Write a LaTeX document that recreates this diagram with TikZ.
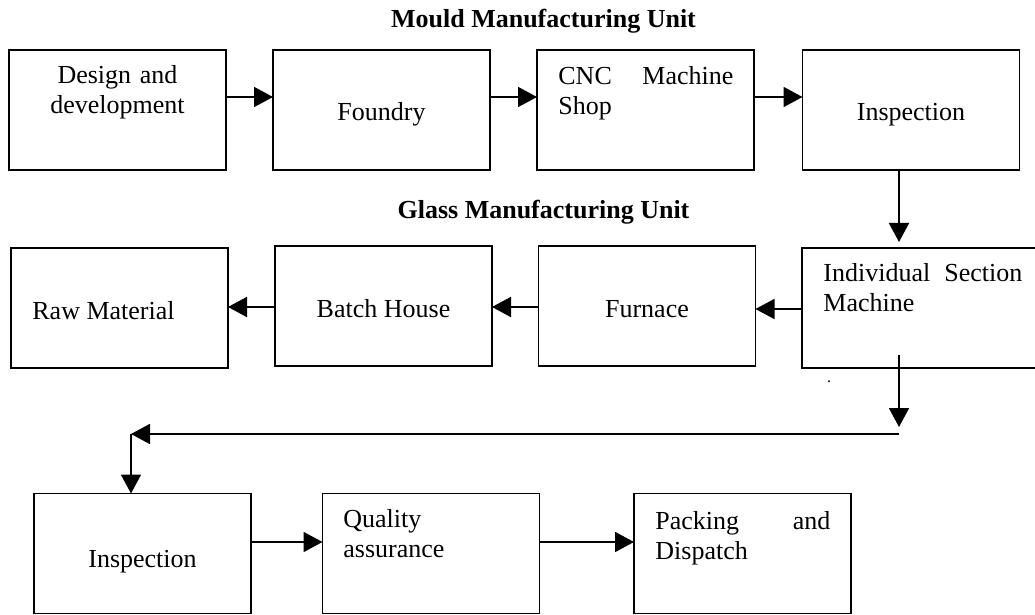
\documentclass[tikz,border=0pt]{standalone}
\usepackage{fontspec}
\setmainfont{Liberation Serif}
\usepackage{tikz}
\usetikzlibrary{positioning, arrows.meta}
\tikzset{
  unit/.style ={draw, line width=0.9pt, rectangle, inner sep=0pt, outer sep=0pt,
                minimum width=108.5pt, minimum height=60pt},
  lbl/.style  ={inner sep=0pt, anchor=base, font=\fontsize{13}{15}\selectfont},
  ttl/.style  ={inner sep=0pt, anchor=base, font=\fontsize{13}{15}\selectfont\bfseries},
  arr/.style  ={-{Triangle[length=9.5pt,width=10pt]}, line width=0.9pt},
}

\begin{document}
\begin{tikzpicture}[x=0.5pt, y=-0.5pt]
\useasboundingbox (0,0) rectangle (1035,615);

% ---- mould manufacturing unit ----
\node[ttl] (mould) at (543.5,28) {Mould Manufacturing Unit};
\node[unit] (design)  at (117.5,110) {};
\node[unit] (foundry) at (381.5,110) {};
\node[unit] (cnc)     at (645.5,110) {};
\node[unit] (inspA)   at (911,110)   {};

\node[lbl,text width=90pt,align=center] (designT) at (117.5,84) {Design and\\development};
\node[lbl] (foundryT) at (381.5,121) {Foundry};
\node[lbl,anchor=base west,text width=87.5pt,align=left] (cncT) at (558,85) {CNC\hfill Machine\\Shop};
\node[lbl] (inspAT) at (911,121) {Inspection};

\draw[arr] ([yshift=6.5pt]design.east)  -- ([yshift=6.5pt]foundry.west);
\draw[arr] ([yshift=6.5pt]foundry.east) -- ([yshift=6.5pt]cnc.west);
\draw[arr] ([yshift=6.5pt]cnc.east)     -- ([yshift=6.5pt]inspA.west);

% ---- glass manufacturing unit ----
\node[ttl] (glass) at (543.5,219) {Glass Manufacturing Unit};
\node[unit] (raw)     at (119.5,308) {};
\node[unit] (batch)   at (383.5,306) {};
\node[unit] (furnace) at (647,306)   {};
\node[unit,minimum width=119pt] (ism) at (921,308) {};

\node[lbl,anchor=base west] (rawT) at (32,320) {Raw Material};
\node[lbl] (batchT) at (383.5,318) {Batch House};
\node[lbl] (furnaceT) at (647,317) {Furnace};
\node[lbl,anchor=base west,text width=99.5pt,align=left] (ismT) at (823,282) {Individual\hfill Section\\Machine};
\node[lbl,font=\fontsize{8}{9}\selectfont] (ismDot) at (829,382) {.};

\draw[arr,shorten >=3pt] ([xshift=-6pt]inspA.south) -- ([xshift=-6pt]inspA.south |- ism.north);
\draw[arr] ([yshift=-0.5pt]ism.west) -- ([yshift=-0.5pt]ism.west -| furnace.east);
\draw[arr] ([yshift=-0.5pt]furnace.west) -- ([yshift=-0.5pt]batch.east);
\draw[arr] ([yshift=-0.5pt]batch.west) -- ([yshift=-0.5pt]batch.west -| raw.east);

% ---- finishing line ----
\node[unit] (inspB) at (142.5,553.5) {};
\node[unit] (qa)    at (431,553.5)   {};
\node[unit] (pack)  at (742.5,553.5) {};

\node[lbl] (inspBT) at (142.5,567) {Inspection};
\node[lbl,anchor=base west,text width=87.5pt,align=left] (qaT) at (343,527) {Quality\\assurance};
\node[lbl,anchor=base west,text width=87.5pt,align=left] (packT) at (655,529) {Packing\hfill and\\Dispatch};

% return path from the IS machine
\coordinate (turnR) at (899,434);
\coordinate (turnL) at (131,434);
\draw[arr] ([xshift=-11pt,yshift=6.5pt]ism.south) -- ([yshift=3.5pt]turnR);
\draw[arr] (turnR) -- (turnL);
\draw[arr] (turnL) -- (turnL |- inspB.north);

\draw[arr] ([yshift=5.75pt]inspB.east) -- ([yshift=5.75pt]qa.west);
\draw[arr] ([yshift=5.75pt]qa.east)    -- ([yshift=5.75pt]pack.west);
\end{tikzpicture}
\end{document}
